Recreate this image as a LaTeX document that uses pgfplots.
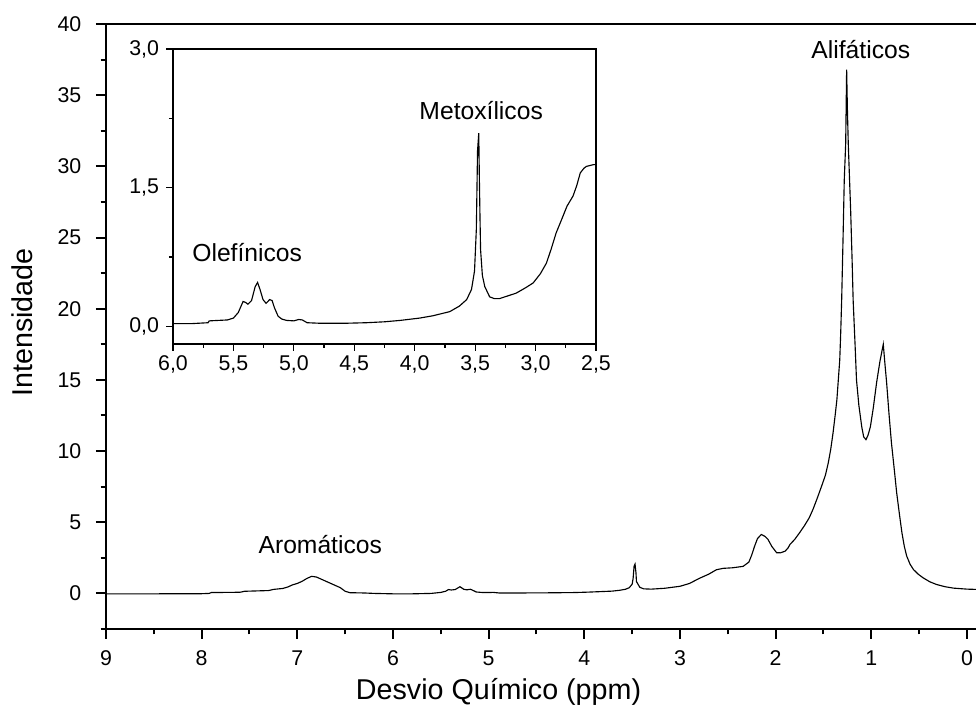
\documentclass[border=0pt]{standalone}
\usepackage{fontspec}
\setmainfont{Liberation Sans}
\usepackage{pgfplots}
\pgfplotsset{compat=1.18}

\pgfplotstableread{
x y
9.0 -0.03
8.5 -0.03
8.0 -0.02
7.92 0.0
7.9 0.06
7.6 0.08
7.55 0.15
7.3 0.2
7.25 0.28
7.15 0.35
7.1 0.45
7.05 0.6
7.0 0.7
6.95 0.85
6.9 1.05
6.85 1.2
6.8 1.15
6.75 1.0
6.7 0.85
6.65 0.7
6.6 0.55
6.55 0.4
6.5 0.15
6.45 0.05
6.3 0.03
6.2 0.0
6.0 -0.03
5.8 -0.03
5.6 0.0
5.5 0.07
5.45 0.15
5.42 0.27
5.39 0.24
5.35 0.27
5.3 0.47
5.26 0.29
5.23 0.25
5.19 0.29
5.16 0.2
5.13 0.1
5.06 0.06
4.95 0.07
4.89 0.03
4.7 0.03
4.4 0.04
4.1 0.06
3.96 0.09
3.85 0.12
3.71 0.16
3.63 0.22
3.57 0.29
3.53 0.40
3.50 0.65
3.49 1.05
3.48 1.9
3.47 2.06
3.46 1.44
3.455 0.83
3.42 0.43
3.38 0.32
3.30 0.30
3.16 0.36
3.0 0.5
2.9 0.7
2.8 1.05
2.7 1.35
2.62 1.66
2.55 1.76
2.45 1.8
2.34 1.9
2.28 2.2
2.25 2.7
2.22 3.32
2.19 3.85
2.15 4.14
2.11 4.0
2.08 3.79
2.04 3.3
1.99 2.86
1.95 2.85
1.90 2.97
1.87 3.2
1.85 3.44
1.80 3.8
1.75 4.26
1.70 4.75
1.65 5.3
1.61 5.9
1.57 6.6
1.52 7.53
1.48 8.3
1.45 9.17
1.425 10.1
1.40 11.28
1.38 12.4
1.36 13.6
1.345 15.0
1.33 16.4
1.32 18.3
1.31 20.6
1.295 25.1
1.283 29.0
1.268 31.6
1.258 36.8
1.25 34.0
1.241 31.6
1.216 26.9
1.20 23.2
1.19 20.6
1.17 17.5
1.155 15.0
1.13 13.2
1.10 11.7
1.08 11.0
1.056 10.8
1.035 11.1
1.01 11.7
0.98 13.0
0.945 14.8
0.91 16.3
0.875 17.5
0.86 16.3
0.84 14.8
0.815 12.6
0.79 10.6
0.76 8.7
0.735 7.07
0.705 5.5
0.68 4.26
0.655 3.3
0.63 2.62
0.595 2.05
0.56 1.68
0.51 1.35
0.46 1.1
0.39 0.82
0.32 0.63
0.23 0.47
0.14 0.37
0.0 0.3
-0.15 0.27
}\maindata

\pgfplotstableread{
x y
6.0 0.03
5.85 0.03
5.71 0.04
5.70 0.06
5.55 0.07
5.50 0.09
5.46 0.15
5.43 0.24
5.42 0.27
5.40 0.26
5.38 0.24
5.35 0.28
5.32 0.43
5.30 0.475
5.28 0.40
5.255 0.29
5.23 0.25
5.20 0.29
5.18 0.28
5.16 0.20
5.13 0.11
5.10 0.08
5.06 0.065
5.0 0.06
4.96 0.075
4.93 0.07
4.89 0.04
4.8 0.035
4.68 0.035
4.55 0.035
4.40 0.04
4.25 0.05
4.12 0.065
3.96 0.09
3.85 0.115
3.71 0.16
3.63 0.22
3.57 0.29
3.53 0.40
3.505 0.6
3.49 1.05
3.48 1.9
3.47 2.09
3.465 1.6
3.46 1.2
3.455 0.83
3.44 0.55
3.42 0.43
3.38 0.32
3.34 0.30
3.30 0.30
3.23 0.33
3.16 0.36
3.08 0.42
3.02 0.47
2.96 0.57
2.91 0.685
2.87 0.84
2.83 1.01
2.78 1.17
2.74 1.30
2.69 1.41
2.66 1.52
2.63 1.66
2.6 1.71
2.58 1.73
2.52 1.75
2.5 1.75
}\insetdata

\begin{document}
\begin{tikzpicture}[x=1pt,y=1pt]
\useasboundingbox (-79.5,-57.75) rectangle (652.5,471.75);
\begin{axis}[
  at={(0pt,0pt)}, anchor=south west, scale only axis,
  width=654.5pt, height=453.75pt,
  x dir=reverse, xmin=-0.122, xmax=9,
  ymin=-2.5, ymax=40,
  xtick={0,1,...,9}, ytick={0,5,...,40},
  minor xtick={0.5,1.5,...,8.5},
  minor ytick={-2.5,2.5,...,37.5},
  xtick pos=bottom, ytick pos=left,
  tick align=outside,
  axis line style={line width=1.5pt},
  major tick style={line width=1.5pt, black},
  minor tick style={line width=1.5pt, black},
  major tick length=7.5pt, minor tick length=4pt,
  tick label style={font=\fontsize{16}{18}\selectfont},
  yticklabel style={xshift=-7.5pt},
  xticklabel style={yshift=-5pt},
  /pgf/number format/assume math mode=true,
  clip=false,
]
\addplot[black, line width=0.85pt] table[x=x,y=y] {\maindata};
\node[font=\fontsize{18.5}{22}\selectfont] at (axis cs:1.11,38.2) {Alifáticos};
\node[font=\fontsize{18.5}{22}\selectfont] at (axis cs:6.76,3.44) {Aromáticos};
\end{axis}

\begin{axis}[
  at={(50.25pt,213.75pt)}, anchor=south west, scale only axis,
  width=317.25pt, height=221.25pt,
  x dir=reverse, xmin=2.5, xmax=6,
  ymin=-0.19, ymax=3.0,
  xtick={2.5,3,...,6}, ytick={0,1.5,3},
  minor x tick num=1, minor y tick num=1,
  xtick pos=bottom, ytick pos=left,
  tick align=outside,
  axis line style={line width=0.9pt},
  major tick style={line width=0.9pt, black},
  minor tick style={line width=0.9pt, black},
  major tick length=5pt, minor tick length=3pt,
  tick label style={font=\fontsize{16}{18}\selectfont},
  yticklabel style={xshift=-2pt},
  /pgf/number format/.cd, fixed, fixed zerofill, precision=1, use comma, assume math mode=true,
  /pgfplots/.cd,
  axis background/.style={fill=white},
]
\addplot[black, line width=0.85pt] table[x=x,y=y] {\insetdata};
\node[font=\fontsize{18.5}{22}\selectfont] at (axis cs:5.386,0.80) {Olefínicos};
\node[font=\fontsize{18.5}{22}\selectfont] at (axis cs:3.45,2.33) {Metoxílicos};
\end{axis}

\node[rotate=90, anchor=base, inner sep=0pt, font=\fontsize{21.5}{26}\selectfont] at (-54.75,229.9) {Intensidade};
\node[anchor=base, inner sep=0pt, font=\fontsize{21.5}{26}\selectfont] at (294.4,-53.25) {Desvio Químico (ppm)};
\end{tikzpicture}
\end{document}
